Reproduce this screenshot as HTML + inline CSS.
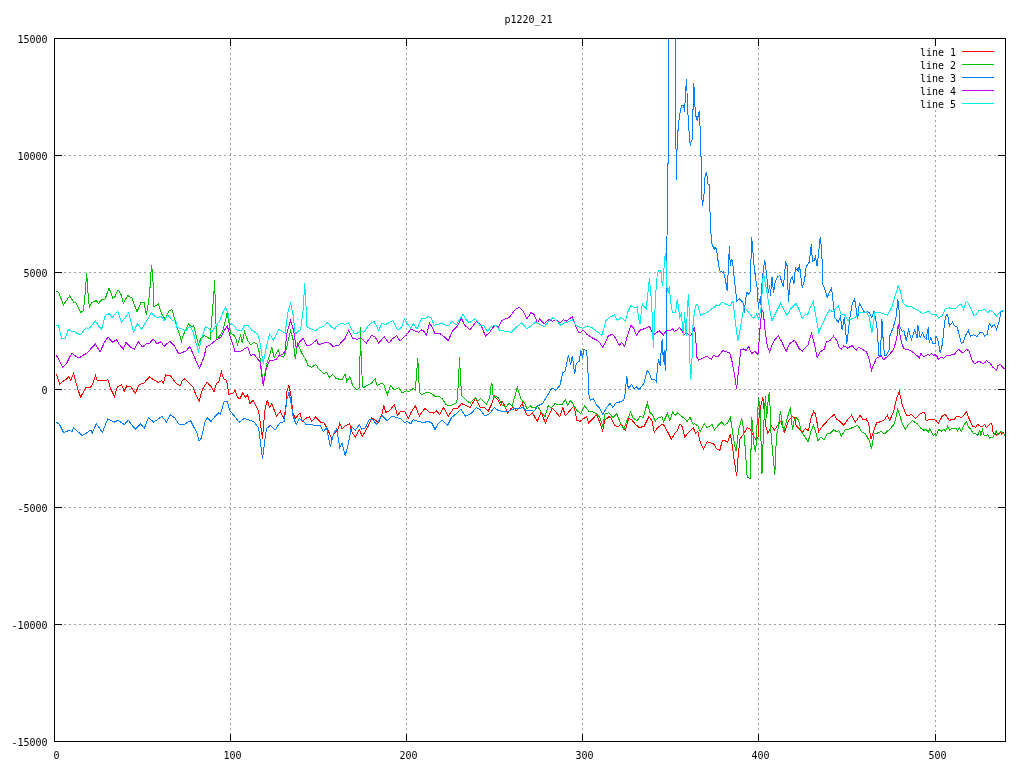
<!DOCTYPE html><html><head><meta charset="utf-8"><title>p1220_21</title><style>html,body{margin:0;padding:0;background:#fff;}svg{display:block;will-change:transform;}text{font-family:"DejaVu Sans Mono","Liberation Mono",monospace;font-size:10px;fill:#000;}</style></head><body>
<svg width="1024" height="768" viewBox="0 0 1024 768">
<rect width="1024" height="768" fill="#fff"/>
<g stroke="#a0a0a0" stroke-width="1" stroke-dasharray="2 3" shape-rendering="crispEdges"><line x1="54" y1="155.5" x2="1005" y2="155.5"/><line x1="54" y1="272.5" x2="1005" y2="272.5"/><line x1="54" y1="389.5" x2="1005" y2="389.5"/><line x1="54" y1="507.5" x2="1005" y2="507.5"/><line x1="54" y1="624.5" x2="1005" y2="624.5"/>
<line x1="230.5" y1="38" x2="230.5" y2="742"/>
<line x1="406.5" y1="38" x2="406.5" y2="742"/>
<line x1="582.5" y1="38" x2="582.5" y2="742"/>
<line x1="758.5" y1="38" x2="758.5" y2="742"/>
<line x1="935.5" y1="110" x2="935.5" y2="742"/>
</g>
<defs><clipPath id="pc"><rect x="55" y="39" width="950" height="702"/></clipPath></defs>
<g fill="none" stroke-width="1" stroke-linejoin="miter" shape-rendering="crispEdges" clip-path="url(#pc)">
<polyline stroke="#ff0000" points="56.3,373.75 59.5,383.9 62.6,381.6 65.7,379.7 68.8,376.6 70.9,380.3 73.5,373.4 77.4,387.8 80.6,397.2 86,387 90.7,387 92.3,384.7 95.4,375.6 97,380 101.7,380.8 105.6,380.8 107.9,379.7 110.6,388.6 114.5,396.4 117.3,387 121.2,384.7 124.3,391 126.7,386 130.6,386.25 135.25,393.3 139.2,384.7 143.8,383.1 149.3,376.9 154,380 157.9,382.3 161.8,380.8 163.4,383.1 165.7,375 170.4,375.6 173.5,380 177.4,384.7 180.6,385.5 182,380.9 184.3,378.6 188.25,382.5 190.6,384.8 192.9,386.4 195.3,393.4 199.2,401.25 202.3,389.5 207,382.2 210.9,386.4 214,391.9 216.4,383.3 218.7,382.5 221.4,371.9 223.4,378.6 226.5,380.2 228.9,394.2 232.8,393.4 235.1,390.3 237.5,397.3 239.8,398.9 242.9,392.7 245.3,397.3 247.6,395 250,403.6 253.1,400.5 255.4,404.4 258.6,411.4 262.5,438.75 264.8,410.6 267.2,399.7 269.5,407.5 271.8,403.6 276.5,416.1 280.4,411.4 283.6,418.4 285.9,407.5 286.7,391.9 289,385.6 291.1,396.6 292.9,413 295.3,418.4 300,413 302.3,421.6 305.4,418.4 309.3,416.9 311.7,421.6 315.6,416.9 321,422.3 324.2,423.1 328.1,430.2 331.7,438.75 334.3,433.3 337.5,430.9 339.8,423.1 342,428.6 345.9,425.5 349.8,423.9 351.7,431.7 355.3,437.2 359.2,429.4 362.3,436.4 367.8,427 371.7,417.7 374.8,420 378.7,422.3 381.8,414.5 383.9,405.6 385.75,412.2 388.9,411.4 394.3,404.7 397.5,415.3 400.6,411.4 404.5,411.4 408.4,418.4 411.5,411.4 415.4,405.9 419.3,416.1 424.8,408.3 429.5,412.2 433.4,413 436.5,410.9 439.7,414.5 443.6,407.5 448.25,416.1 453.7,408.3 457.6,408.3 461.5,403.6 465.4,405.2 470.1,407.5 475.6,398.1 480.3,407.5 484.2,407.5 488.1,411.4 491.2,405.2 494.3,395.8 498.25,400.5 500.6,405.2 502,401.1 504.3,405 507.5,413.1 510.6,408.9 513.7,407.3 516.1,410.9 519.2,408.1 522.3,403.4 524.7,410.5 527,415.2 530.1,415.2 532.5,412.8 537.2,421.4 541.1,412 545.4,423 548.9,415.2 552.3,408.1 555.9,412 559.8,416.7 562.9,407.8 565.3,415.9 570,410.5 573.9,405.8 577,420.6 580.1,421.4 583.25,419 586.4,416.7 588.7,423 592.6,419 596.5,414.4 599.7,422.2 602.5,430.8 605.1,419.8 609,416.7 611.4,418.3 614.5,425.3 618.4,426.9 620.75,423.75 625.4,430 628.6,418.3 631.7,419.8 635.6,424.5 639.5,427.7 644.2,426.1 648.9,416.7 652,420.6 654.3,432.3 657.5,427.7 662,424.5 664.3,425.3 667.5,431.6 671.4,439.4 674.5,433.9 677.6,430 680,423.75 682.3,426.9 684.7,437 689.3,431.6 693.25,427.7 695.6,433.1 697.9,431.6 700.3,442.5 703.4,448.75 707.3,441.7 713.6,444 716.7,448.75 719.8,450.3 722.2,440.9 724.5,440.2 727.6,442.5 730.4,434.4 732.3,445.6 733.9,458.1 736.7,476.1 738.25,455 740.1,438.6 743.25,434.7 747.2,427.7 750.3,429.2 753.4,436.25 756.5,440.2 758.1,437 758.9,419 760.4,408.1 762.8,397.2 764.3,412 765.9,426.9 767.9,433.1 771.4,426.1 774.5,430 777.6,425.3 780.75,421.4 784.7,431.6 788.6,420.6 792.5,416.7 794.8,417.5 796,425.3 799.1,428.4 802.25,432.3 805.4,428.4 808.5,430.8 810.8,419 813.5,411.25 815.5,414.4 818.7,431.6 822.6,426.1 825.7,423 828.8,419 834.3,414.4 836.6,419 839,420.6 843.7,425.3 847.6,419.8 851.5,415.2 855.4,422.2 860.1,415.2 863.2,419.8 866.3,419 868.7,423.75 871,439.4 874.1,430 876.5,423 881.2,421.4 884.3,419.8 887.4,415.2 889.75,420.6 893.7,411.25 896.8,397.2 899.4,391.7 902.25,405 905.4,412.8 906.9,415.9 911.6,414.4 915.5,418.3 920.2,413.6 924,412.3 924.9,413.2 926.1,420.9 929.2,419.2 933.5,419.2 936.5,420.9 938.2,423.5 942,416.6 945.1,414 949.4,420.5 952.4,419.2 954.5,419.2 956.2,416.5 959.2,416.5 961,417.5 963.1,416.2 966.5,411.5 967.8,415.8 972.6,426.1 975.6,427.4 977.3,424.4 980.3,426.1 982.9,426.25 984.6,424.4 986.3,427.4 991,423.3 991.9,424.4 993.2,433.8 994.9,433 996.6,435.5 998.3,433.8 1000.1,432.1 1001.8,434.2 1003.5,433 1004.8,435.1"/>
<polyline stroke="#00c000" points="56.5,291 59,293 63.4,305 69.6,296 74,302.5 76,303 81,312.5 83.4,310.6 84.6,300 86,282.5 86.75,273 87.5,287 89.4,308 91.5,302.5 96.5,300.6 98.4,303.5 101.5,300 105,299.4 109,287.75 112.75,298 114.6,297.5 118,289.75 121,294.4 123.4,303 127.75,295.6 132,298 137,312 141,302.5 144,302.5 146.5,315 149.6,293.75 151.5,265 152.75,275.6 154,307 158.4,303.75 161.5,313.75 165.25,319.4 169,311 172,309.75 176,323.75 181.5,341 182,338.6 185.1,330.75 188.6,323.7 191.1,326.8 193.7,325.75 198.4,344.8 200.75,338.6 203.9,335.4 207,337 210.1,339.3 212.5,310.4 214,290.9 214.5,280.4 215.6,308.9 216.4,338.6 220.3,335.4 223.4,329.2 227,313.25 228.9,322.2 230.4,333.1 233.6,334.7 235.9,338.6 237.5,344.8 240.6,335.4 242.2,343.25 244.5,331.5 247.6,340.1 250.75,344.8 253.9,342.5 257,344 259.3,352.6 261.7,371.4 263.25,385 264.8,374.5 267.2,362 269.5,355.75 271.8,347.6 274.2,357.3 278.1,349.5 280.4,355.75 283.6,357.3 285.9,351 288.25,340.1 290.6,330.75 292.9,338.6 295.3,359.4 297.6,343.25 301.5,352.6 305.4,358.9 307.8,365.1 311.7,367.5 315.6,364.3 319.5,369.8 323.4,373.7 326.5,372.2 329.7,377.6 332.8,374.5 335.9,378.4 342,379.8 345.1,374.4 346.7,381.4 349.8,376.7 352.9,386.1 356.8,390 359.2,387.7 360,357.2 360.4,327.5 361.5,369.7 363.1,387.7 366.2,386.1 370.9,383.75 375.1,378.75 377.2,385.3 381.1,383.4 383.9,384.5 387.3,394.7 390.4,385.6 394.3,389.7 399,387.7 402.2,393.1 406.1,390.8 409.2,391.6 413.1,388.4 415.4,390 416.7,371.25 417.8,358.4 418.9,382.2 420.1,393.9 422.5,394.4 424.8,393.1 428.7,392.3 432.6,394.4 435.75,397 439.7,396.6 442.8,399.4 445.9,404.8 449,405.6 452.9,404.8 456.8,402.5 458.4,383.75 459.5,357.5 460.75,383.75 462,396.25 466.2,400.2 470.1,403.3 473.25,399.4 475.6,397.5 477.9,401.25 480.75,398.6 483.4,401.7 486.5,404.1 489.7,397.8 491.2,383.75 492,383.75 493.25,397.8 495.9,396.25 498.25,397.8 502,405 505.9,407.3 509,403.4 512.2,405.8 517.3,387.5 520.75,398.75 524.7,403.4 527,408.9 530.1,405.8 532.5,407.8 535.6,407.3 537.9,406.6 541.1,412 545,416.7 548.1,405.8 551.2,408.1 555.1,403.4 558.25,405 562.2,404.2 565.3,399.5 567.6,405 570.75,400.3 573.9,405.8 577,410.5 580.9,413.6 584.8,405.8 588.7,411.25 592.6,412 596.5,413.6 599.7,417.5 602.8,426.1 605.1,413.6 609,412.8 612.9,417.5 616.8,413.6 620,422.2 623.9,429.2 627,420.6 630.5,412 633.25,418.3 637.2,420.6 640.3,416 643.4,417.5 647.3,402.7 649.7,412 652.8,415.2 655.1,421.4 658.25,417.5 662,416.7 663.6,421.4 667.5,413.6 669.8,420.6 672.6,412 675.3,415.2 677.6,412.8 680.75,416 684.7,418.3 687,421.4 690.1,417.5 693.25,424.5 694.8,423.75 697.9,426.1 700.3,431.6 704.2,423.75 707.3,427.7 712,424.5 714.3,430 717.5,426.1 721.4,421.9 724.5,425.3 727.6,423 730.4,417.5 732.3,430 734.7,445.6 736.2,451.1 738.6,430 741.7,418.3 743.25,426.9 744.8,442.5 747.2,477.7 750.3,478.4 751.8,417.5 754.2,447.2 755.75,451.9 757.3,419 758.6,397.2 760.1,411.25 762,473.75 763.6,426.9 765.4,396.4 766.7,417.5 768.25,398.75 769.5,391.7 771.1,434.7 772.6,451.9 774.8,474.5 776.4,436.25 778.4,426.9 780.4,411.25 783.6,431.6 787,419 790.4,407.3 792.5,430 794,421.4 796,417.5 798.3,419.8 801.5,431.6 804.6,436.25 808.2,441.7 810.8,431.6 813.5,425.3 816.3,433.9 817.9,440.9 821,437 824.1,440.2 827.25,433.9 830.4,433.1 833.5,430 836.6,431.6 839,430.8 841.3,436.25 845.2,430 848.3,429.2 852.25,427.7 857.7,425.3 861.6,431.6 865.5,433.9 869.4,440.9 871.5,448.75 874.1,433.9 877.25,433.1 881.2,431.6 884.3,433.9 889.75,429.2 894.4,423.75 897.6,409.7 899.1,412.8 902.25,423.75 905.4,429.2 908.5,424.5 912.4,420.6 914.75,422.2 917.1,423.75 921,428.4 924,430.4 926.1,429.1 928.3,432.5 929.6,428.7 933.5,435.5 935.2,433.8 936.5,435.5 938.6,429.5 941.2,431.2 943.8,429.5 945.5,431.2 947.6,426.5 949.8,430.4 951.5,428.7 953.6,428.2 956.2,428.5 957.5,431.2 959.2,427.8 961.6,431.2 963.5,425.2 964.4,424.4 966.5,421.6 968.3,426.5 970.8,429.5 973.4,433.8 975.6,433.8 977.7,435.1 979.9,430.4 980.7,436.4 982.4,429.5 984.2,436 987.6,434.7 989.7,438.1 992.75,437.7 994.5,433.8 996.2,430.8 997.9,435.1 1000.5,431.2 1003.1,433 1004.8,435.5"/>
<polyline stroke="#0080ff" points="56.3,422.2 59.5,424.5 63.4,432.3 66.5,431.6 68.8,430 72.4,431.6 73.5,427.7 82.1,435.5 87.6,432.3 90.7,430 92.3,433.1 96.2,423.75 102.4,432.3 107.9,418.75 114.2,422.2 118,420.3 124.3,424.5 128.2,420.3 135.25,429.2 140.7,423.75 144.3,428.4 148.5,417.5 153.7,422.2 161.8,416.25 166.5,422.2 170.4,414.7 175.1,418.3 179,424.2 182,424.7 185.1,423.9 187.5,422.3 190.6,420.8 193.7,427 196.8,432.5 199.2,441.1 201.5,438 204.7,422.3 207,417.7 210.9,421.6 214.8,416.9 218.7,413 220.3,414.5 224.2,401.25 227.3,401.25 229.7,410.6 235.1,416.9 239,422.3 244.5,418.4 249.2,420 253.9,421.6 258.6,427.8 262.5,459 266.4,428.6 270.3,425.5 275,430.2 279.7,423.1 284.3,421.6 286.7,400.5 289,391.9 291.4,405.2 292.9,415.3 296.1,424.7 299.2,418.4 302.3,420 306.2,424.7 310.1,423.9 314,425.5 320.3,425.5 323.4,431.7 326.5,427.8 330.4,446.6 333.6,434 336.7,428.6 339.8,447.3 342,442.7 345.1,455.6 347.5,447.3 349.8,436.4 351.4,426.25 355.3,430.2 359.2,424.7 361.5,429.1 365.4,427.8 369.3,419.2 373.25,420 376.4,424.7 381.8,415.3 387.3,420.8 392,416.1 396.7,417.7 401.4,419.2 404.5,422.3 407.6,421.6 410.75,423.9 413.1,419.7 418.6,421.6 423.25,422.3 428.7,421.6 431.8,423.1 435,429.4 438.1,423.9 442,420 447.5,425.5 451.4,417.7 456.1,413.75 460.75,409 465.4,416.1 470.9,413.75 476.4,407.5 480.3,409.8 485,416.1 489.7,413.75 494.3,407.5 498.25,410.6 502,411.25 506.7,412 511.4,409.7 516.1,408.1 519.2,408.9 522.3,407.3 526.2,410.5 530.9,410.5 534,411.25 537.9,405.8 542.6,403.4 547.3,395.6 552,387.8 555.9,390.2 559.8,385.5 562.9,372.8 565.3,370.5 568.4,355.6 570.75,365 572.3,355.6 574.7,374.4 576.2,363.4 579.3,361.1 580.9,350.2 582.5,358 584,349.4 586.4,351 587.6,360.3 588.7,394 590.3,400.3 593.4,398.75 596.5,405 599.7,408.1 602.8,414.4 605.9,408.9 609.8,403.4 612.9,407.3 616.1,402.7 620,401.9 623.9,400 625.4,391.6 626.7,375.9 628.25,388.4 631.7,384.5 634,389.2 636.4,386.9 638.7,389.2 640,388.75 643.9,383.3 647,370.8 648.6,371.6 651.7,379.4 655.6,380.2 656.4,381.7 657.2,370 658.4,359 659.5,363 660.3,366.1 661.1,351.25 662.2,338.75 663.4,362.2 664.2,349.7 665.3,370.8 666.1,348.1 667.6,163 668.5,163 668.5,20 675.4,20 675.4,108.75 676.5,179.8 677.2,140 678.4,126 679.4,116.2 680.5,110.3 681.5,106 683,105.2 683.8,106.8 684.4,111.5 684.6,103.3 685.4,102.5 686.3,79 687,91.2 687.3,114.6 688.5,115.4 688.5,130.6 689.5,131.4 689.7,140.8 690.5,146.25 691.1,141.6 692.4,139.2 692.4,110.3 693.4,109.1 693.6,83.2 694.4,91.2 694.4,106.8 695.5,107.2 695.8,115.8 697.3,121.25 698.3,114.6 699.5,111.1 699.5,125.5 700.5,126.3 700.5,156.4 701.4,157 701.4,188.8 702.3,205.6 703.4,199.4 704.5,190 704.5,181 705.3,175.2 706.5,172 707.3,178.3 707.7,183.75 709.3,184.5 709.3,196.6 710.5,222.8 711.25,239.6 712.4,246.25 713.6,246.25 714.2,250.3 715,247.2 716.6,249.5 718.1,261.25 719.7,270.6 722,272.2 723.6,271.9 725.2,278.4 727.2,291 728.3,269 729.4,246.4 730.3,266 731.4,259.7 732.5,261.25 733.75,273.75 735.3,287.8 736.9,301.1 739.2,298.75 742.3,301.9 743.9,305 744.4,312.8 745.5,298.75 747,292.5 748.6,294 750.2,291.7 750.9,262.8 751.7,237 752.8,250.3 754.1,266 755.6,278.4 757.2,287.8 758.4,308 759.5,298.75 760.3,305 761.6,287.8 763.4,269 764.7,260.5 765.8,267.5 767.3,281.6 768.4,292.5 769.7,284.7 770.5,295.6 772,276.9 773.6,292.5 775.2,281.6 777.5,276.9 779.8,275.3 781.4,280.8 783.4,287 785.6,262.8 787.2,266 788.4,301.9 790.3,280 792.3,276.9 793.9,283.9 795.5,266.7 796,269.8 797.6,268.3 798.3,272.2 799.4,264.4 800.7,275.3 802.25,287.8 804.6,280 806.2,266.7 809.3,262 811.3,244.4 812.4,261.25 814,260.5 815.5,256.6 817.1,266 818.7,251.9 820.2,237.5 821.8,249.5 822.6,283.9 824.9,289.4 827.25,297.2 831.6,287.8 833.5,305 834.75,317.5 838.2,322.2 840.5,316.7 842.1,330 844.4,316.7 846.8,344 849.9,317.5 852.25,303.4 854.6,298.75 857.7,319 859.3,303.4 861.6,307.3 864.75,312.8 867.1,311.25 869.4,312.8 871.8,317.5 874.1,311.25 875.7,319 877.25,330 878.8,355 880.4,355 881.9,319 883.5,345.6 884.5,355 886.6,355 889,350.3 889.75,336.25 892.9,328.4 896,317.5 897.9,299.5 899.1,311.25 899.9,326.9 902.25,331.6 903.8,330 906.2,340.9 908.5,330 911.6,339.4 914.75,330 917.1,337.8 917.9,325.3 920.2,337.8 922.6,333.1 924,336.4 926.1,339.4 928.3,327 929.2,343.3 930.9,337.3 933,344.1 935.2,343.3 936,336 937.75,339.8 940.3,353.2 942.5,343.3 944.6,322.2 946.3,314.5 947.6,314.1 949.4,326.1 952.4,322.2 954.9,326.1 957.1,327 961.4,343.3 963.5,342 965.25,336 968.3,330.4 970.4,336.4 973.4,334.7 977.3,336.4 979.9,332.5 982.9,332.5 984.6,336.4 987.2,334.3 989.3,323.5 991.5,327 994.5,324.4 996.6,329.5 999.6,320.1 1000.5,312.8 1002.2,311.1 1004.4,310.6"/>
<polyline stroke="#c000ff" points="56.3,355 59.5,361.25 62.6,367.2 66.5,363.6 69.6,357.3 72,353.4 75.1,355.8 79,358.1 82.9,355.3 86.8,353.4 91.5,348 95.4,344 100,351.9 104,343.3 107.9,337 112.6,342.2 116.5,339.7 119.6,344.8 123.2,349 125.9,342.5 130.6,347.2 134.5,349 138.4,341.7 142.3,346.9 146.2,344 149.3,343.75 153.2,339 157.1,343.75 161,341.7 164.2,346.4 169.6,341.25 174.3,345.6 179,354.2 182,352.6 185.9,351 189.8,346.4 194.5,357.3 199.5,368.25 203.9,357.3 206.2,347.2 210.1,344.8 214,341.7 217.2,339.3 221.1,337 224.2,330.75 227.3,326 230.4,337 235.1,351.8 241.4,351 244.5,348.7 247.6,347.2 250.75,355.75 253.9,354.2 257,358.1 260.1,362 261.7,374.5 263.25,385.6 266.4,368.25 269.5,360.4 272.6,360.4 275.75,359.7 278.9,355.75 282.8,354.2 285.1,351 286.7,333.9 290.6,320.6 293.7,330.75 296.1,347.9 299.2,342.5 303.1,338.6 307,345.6 310.9,344.8 316.4,340.1 318.7,344.8 322.6,343.25 326.5,342.5 329.7,343.25 332.8,346.4 338.25,345.6 342,341.6 345.1,338.4 348.6,330.3 352.9,338.4 357.6,339.2 360.75,337.7 366.2,343.1 371.7,335.3 374.8,336.6 378.7,343.1 384.2,336.6 388.9,343.1 392,339.2 396.7,335.6 399.8,340.8 406.1,335.3 410.75,329 415.4,331.4 418.6,332.2 421.7,329.8 424,331.4 426.4,335.3 429.5,323.1 431.8,326.7 435,333.75 439.7,333.4 444.3,336.9 448.25,340.8 452.2,331.4 457.6,325.9 461.5,318.4 464.7,325.2 470.1,329.8 476.4,321.25 481.1,325.2 485.4,336.1 489.7,332.2 492.8,327.5 495.9,325.2 498.25,327.5 502,320.5 505.1,318.9 509,317.8 512.2,313.4 515.3,309.5 519.2,307.5 523.1,311.1 527,318.9 530.9,312.7 534,314.2 537.6,323.1 539.5,318.9 544.2,323.6 548.9,319.7 552.8,321.25 555.9,319.7 559.8,322.8 563.7,319.7 566.1,321.25 572.3,316.6 576.2,327.5 579.3,333 583.25,330.3 587.2,334.5 591.8,337.7 596.5,340 598.9,341.6 602.8,347.5 608.25,336.1 612.2,334.1 615.3,337.7 619.2,345.5 621.5,342.3 624.7,346.25 627,336.9 630.9,325.6 633.25,327.5 636.4,335.3 640,330.2 644.7,328.6 649.4,326.25 653.3,334.8 656.4,332.5 659.5,331 663.4,334.8 666.6,330.2 670,330.6 672.5,328.75 674.4,331.25 676.9,330 679.75,327.25 683.75,334.4 686.9,333.1 690.6,335.6 692.5,332.5 694.4,327.25 695.6,336.9 696.9,357.5 698.75,360 702.5,358.1 706.9,356.25 711.25,359.4 713.1,355.6 718,356.9 722.8,350.5 726.7,352 729.8,352.8 732.2,362.2 734.5,374.7 736.6,388.75 738.4,371.6 740.8,349.7 743.9,348.9 746.25,350.5 748.6,346.6 751.7,353.6 754.8,351.25 758,354.4 758.75,345 760.3,324.7 761.9,309.7 763.4,312.8 765,330 767.3,345.8 769.7,352 772,345 774.4,340.3 778.3,335.6 782.2,342.7 786.1,351.25 790,343.4 794.7,340.3 796,342.5 799.1,348.75 802.25,351.1 805.4,347.2 807.7,345.6 811.6,333.1 814,342.5 817.1,357.3 820.2,351.9 824.1,349.5 826.5,341.7 829.6,340.9 833.5,336.25 836.6,340.2 839,347.2 841.3,349.5 843.7,345.6 847.6,348 852.25,345.6 856.2,350.3 858.5,347.2 861.6,348.75 866.3,351.9 868.7,357.3 871.5,370.3 874.1,363.6 876.5,358.1 881.2,355.8 883.5,359.7 888.2,355.8 893.7,349.5 896.8,337.8 898.3,323.75 899.1,330 901.5,342.5 903.8,348.75 907.7,349.5 911.6,351.1 916.3,355 919.4,358.1 921,353.4 922.6,355.8 924,356.3 927.9,354.6 929.6,355.5 931.6,353.3 933.5,355.5 935.2,354.6 936.9,356.3 938.4,359.3 940.8,357.6 942.5,357.6 943.6,358.5 946.8,355.5 950.2,355.5 951.9,354.6 954.5,354.4 957.1,350.7 958.8,349.3 961.8,352.5 963.5,352.5 966.5,349.3 969.1,351.2 970.8,355.9 972.1,360.6 974.7,363.6 977.7,361.9 979.9,361.5 982.9,363.6 984.6,362.8 986.6,360.5 988,362.3 990.2,363.2 992.75,367.5 994.5,368.4 996.6,370.1 997.9,365.8 1000.1,364.2 1002.2,366.6 1004.8,369.2"/>
<polyline stroke="#00eeee" points="56.25,325.25 58.4,325.6 61.5,338 65.25,338 68.4,329.4 71,331 73.4,331 76.5,333 80.25,335 83.4,331 86.5,327.5 88.4,329.4 91.5,326 95.25,320.6 98.4,325.6 101.5,329.4 105.25,315.6 107,314.4 109.6,313.75 112,317.5 115.25,313.75 117.75,311.25 121.5,322 125.25,317.5 128.75,313 133.4,332 137.5,323.5 141.5,329.4 146.5,321 151.5,312.5 154,315.6 157.75,318 161,316 164,320.6 167.75,315 172,320 176,322 177,327.5 181.5,328.5 182,329.2 185.9,330.75 189.8,326 192.9,331.5 198.4,351.4 201.5,338.6 205.4,326.8 208.6,328.4 211.7,332.3 215.6,326 219.5,321.4 222.6,313.6 225.4,307 228.1,313.6 229.7,323 233.6,325.3 237.5,330.75 241.4,330.75 244.5,325.75 248.4,326 252.3,330.75 257.8,333.9 260.1,343.25 263.25,363.6 266.4,346.4 269.5,333.9 273.4,340.1 278.9,329.2 285.1,333.1 288.25,310.4 290.6,303.4 292.9,313.6 295.3,333.9 300.75,329.2 303.1,310.4 304.7,283.1 306.2,308.9 307,326.8 311.7,329.2 315.6,330.75 319.5,327.6 323.4,326.8 327.3,322.2 330.4,326 334.3,329.2 338.25,324.5 342,323.6 345.1,324.4 348.25,322.8 351.4,329 354.5,333.4 357.6,333 360.75,331 363.9,332.2 367,327.5 370.1,323.6 374,321.6 378.7,330.3 381.8,323.6 385.75,324.4 388.9,322.8 392.8,320.5 397.5,329.8 401.4,327.5 404.5,318.9 406.8,322.8 410.75,328.3 413.6,323.6 417,329 421.7,318.1 424.8,318.9 427.9,316.6 431.1,318.1 434.2,325.2 438.1,324.4 442,322.8 445.1,325.2 448.25,325.9 452.2,321.25 456.1,325.2 463.1,314.2 465.4,318.9 469.3,322.8 474.8,318.9 477.9,322 479.5,325.2 483.4,325.2 487.3,331.4 491.2,326.7 495.9,325.2 499.8,330.6 502,330.6 506.7,331.4 511.4,332.2 516.1,327.5 521.5,322.8 527,329 530.9,325.9 535.6,322 538.7,323.6 544.2,326.7 548.9,321.25 552.8,317.8 555.9,319.7 560.6,325.2 564.5,322.8 568.4,322 572.3,319.7 575.4,324.4 578.6,326.7 582.5,328.3 587.2,325.9 591.8,327.5 595.75,330.6 602,335.3 605.9,320.5 609.8,317.3 614.5,315 617.6,320.5 621.5,317.3 625.4,321.25 627.8,311.9 630.9,305.6 634.8,308 637.2,306.9 639.5,323.6 640,323.75 642.3,303.4 643.9,306.6 646.25,308.9 649.4,278 651.7,303.4 653.3,348.1 655.6,295.6 657.2,275 658.4,270.3 660.6,270.3 661.6,274 662.2,286.25 663.4,278 664.4,262.2 665.3,253.1 666.25,264 666.6,285.6 668.1,292.5 669.4,286.25 670,295 671.25,306.25 672.5,313 675.6,312.5 677.25,299.4 678.1,305 679.75,317 681.25,313.75 683.5,336.25 684.4,312.5 686.25,336.25 687.5,305.6 688.5,294.4 689.4,316.25 689.75,357.5 690.6,379.4 691.5,370 692.25,352.5 693.1,322.5 694.4,312.5 695.6,305.6 697.5,304.4 700.6,315 706.25,313 710,310 713.1,308.1 716.6,305 718.9,305.8 722,301.9 725.9,304.2 729.8,305.8 733,301.1 734.5,314.4 737.7,341 740,330 742.3,316 743.9,306.6 747.8,311.25 750.2,314.4 753.3,318.3 756.4,314.4 758.75,319 761.1,308.1 763.4,272.2 765,281.6 767.3,294 769.7,309.7 772,320.6 776.7,311.25 780.6,303.4 786.9,315.2 790.8,308.9 796,303.4 799.1,309.7 802.25,318.3 804.6,315.2 807.7,314.4 810,308.1 813.2,301.6 815.5,314.4 818.7,332.3 822.6,323.75 826.5,315.2 829.6,309.7 832.7,312 838.2,305.8 841.3,314.4 844.4,314.4 847.6,320.3 851.5,319 855.4,317.5 858.5,312.8 863.2,312.8 866.3,312 869.4,317.5 871.8,333.1 874.9,312.8 880.4,312.8 887.4,315.2 892.1,306.6 895.2,295.6 898.3,285.5 900.7,292.5 903,303.4 906.9,306.25 911.6,306.6 914.75,308.9 919.4,311.25 922.6,313.6 924,313.2 928.7,311 931.3,314.5 936,314.5 938.6,317.9 942.5,315.8 945,308.9 948.9,307.6 950.6,308.9 956.2,308 959.7,304.2 961.4,304.6 963.5,309.3 966.3,301.2 968.7,304.2 971.7,310.6 973.8,315.4 975.6,314.9 979,310.6 981.6,311 984.2,309.3 987.6,312.8 989.7,310.6 992.75,311.5 996.2,316.2 999.6,312.3 1001.3,310.6 1004.4,310.6"/>
</g>
<g stroke="#000" stroke-width="1" fill="none" shape-rendering="crispEdges"><rect x="54.5" y="38.5" width="951" height="703" fill="none"/><path d="M54 155.5h8M1006 155.5h-8"/><path d="M54 272.5h8M1006 272.5h-8"/><path d="M54 389.5h8M1006 389.5h-8"/><path d="M54 507.5h8M1006 507.5h-8"/><path d="M54 624.5h8M1006 624.5h-8"/><path d="M230.5 742v-8M230.5 38v8"/><path d="M406.5 742v-8M406.5 38v8"/><path d="M582.5 742v-8M582.5 38v8"/><path d="M758.5 742v-8M758.5 38v8"/><path d="M935.5 742v-8M935.5 38v8"/></g>
<text x="47.5" y="43" text-anchor="end">15000</text><text x="47.5" y="160" text-anchor="end">10000</text><text x="47.5" y="277" text-anchor="end">5000</text><text x="47.5" y="394" text-anchor="end">0</text><text x="47.5" y="512" text-anchor="end">-5000</text><text x="47.5" y="629" text-anchor="end">-10000</text><text x="47.5" y="746" text-anchor="end">-15000</text><text x="56.5" y="759" text-anchor="middle">0</text><text x="232.5" y="759" text-anchor="middle">100</text><text x="408.5" y="759" text-anchor="middle">200</text><text x="584.5" y="759" text-anchor="middle">300</text><text x="760.5" y="759" text-anchor="middle">400</text><text x="937.5" y="759" text-anchor="middle">500</text><text x="528.5" y="23" text-anchor="middle">p1220_21</text><text x="920" y="56">line 1</text><text x="920" y="69">line 2</text><text x="920" y="82">line 3</text><text x="920" y="95">line 4</text><text x="920" y="108">line 5</text>
<g stroke-width="1" shape-rendering="crispEdges"><line x1="962" y1="51.5" x2="994" y2="51.5" stroke="#ff0000"/><line x1="962" y1="64.5" x2="994" y2="64.5" stroke="#00c000"/><line x1="962" y1="77.5" x2="994" y2="77.5" stroke="#0080ff"/><line x1="962" y1="90.5" x2="994" y2="90.5" stroke="#c000ff"/><line x1="962" y1="103.5" x2="994" y2="103.5" stroke="#00eeee"/></g>
</svg></body></html>
